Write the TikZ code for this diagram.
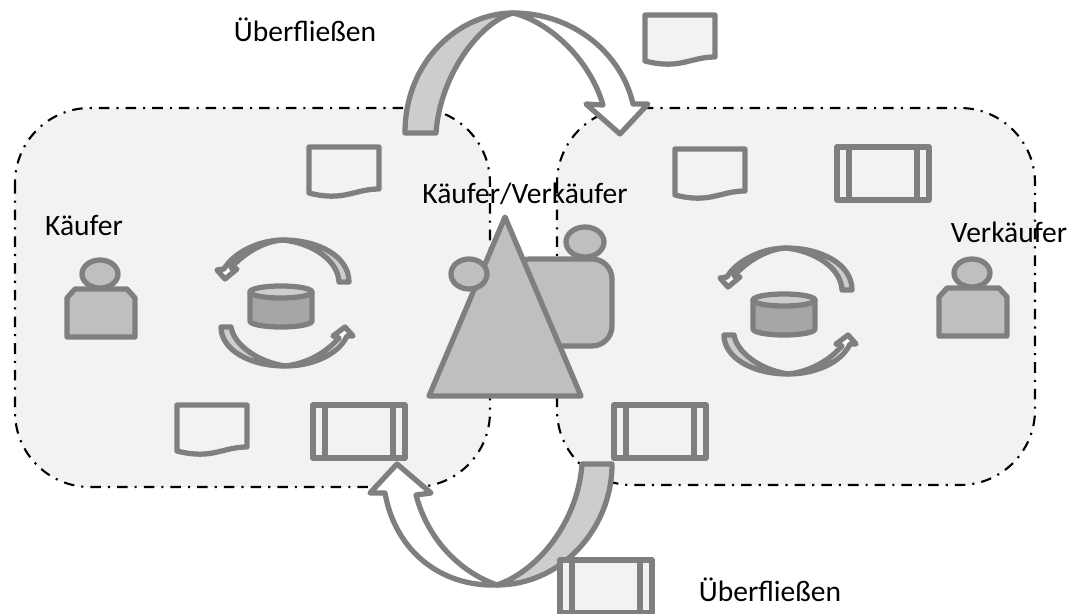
\documentclass[tikz,border=0pt]{standalone}
\usepackage{fontspec}
\setmainfont{Carlito}
\definecolor{shapegray}{HTML}{7F7F7F}
\definecolor{bodygray}{HTML}{BFBFBF}
\definecolor{areagray}{HTML}{F2F2F2}
\definecolor{tailgray}{HTML}{CDCDCD}
\definecolor{drumgray}{HTML}{A6A6A6}
\tikzset{
  area/.style={fill=areagray, draw=black, line width=1.2pt,
    dash pattern=on 6pt off 4pt on 1.2pt off 4pt, rounded corners=1.5cm},
  shapeline/.style={draw=shapegray, line width=3pt, line join=round},
  iconline/.style={draw=shapegray, line width=3pt, line join=round},
  label/.style={font=\fontsize{16.8pt}{20pt}\selectfont, text=black, inner sep=0pt},
}
% 文档图标
\newcommand{\docicon}[2]{
  \draw[shapeline, fill=areagray, shift={(#1,#2)}] (0,0) -- (70,0) -- (70,42)
    .. controls (45,42) and (35,55) .. (0,46) -- cycle;
}
% 过程图标
\newcommand{\boxicon}[2]{
  \draw[shapeline, fill=areagray, shift={(#1,#2)}] (0,0) rectangle (92,53)
    (12,0) -- (12,53) (80,0) -- (80,53);
}
% 人物图标
\newcommand{\personicon}[2]{
  \begin{scope}[shift={(#1,#2)}]
    \draw[shapeline, fill=bodygray] (8,0) -- (60,0) -- (68,9) -- (68,48) -- (0,48) -- (0,9) -- cycle;
    \draw[shapeline, fill=bodygray] (33,-15) ellipse[x radius=18, y radius=14];
  \end{scope}
}
% 循环图标
\newcommand{\cycleicon}[2]{
  \begin{scope}[shift={(#1,#2)}]
    \draw[iconline, fill=tailgray] (349,282) .. controls (349,256) and (318,240) .. (283,240)
      .. controls (312,243) and (338,260) .. (339,282) -- cycle;
    \draw[iconline, fill=white] (283,240) .. controls (260,240) and (234,252) .. (224,269)
      -- (217,270) -- (225,279) -- (237,269) -- (231,268)
      .. controls (245,252) and (265,241) .. (283,240) -- cycle;
    \draw[iconline, fill=tailgray] (221,327) .. controls (221,350) and (250,366) .. (285,366)
      .. controls (258,362) and (234,345) .. (231,327) -- cycle;
    \draw[iconline, fill=white] (285,366) .. controls (312,366) and (338,355) .. (347,336)
      -- (353,336) -- (345,327) -- (333,336) -- (339,338)
      .. controls (325,354) and (305,364) .. (285,366) -- cycle;
    \draw[iconline, fill=drumgray] (250,292) -- (250,321) arc[start angle=180, end angle=360, x radius=31, y radius=-6]
      -- (312,292) -- cycle;
    \draw[iconline, fill=tailgray] (281,292) ellipse[x radius=31, y radius=6];
  \end{scope}
}

\begin{document}
\begin{tikzpicture}[x=0.02cm, y=-0.02cm]
  \useasboundingbox (0,0) rectangle (1068,614);

  % 两个区域
  \draw[area] (15,108) rectangle (490,487);
  \draw[area] (557,108) rectangle (1035,485);

  % 上方的大箭头
  \draw[shapeline, fill=tailgray] (405,133) .. controls (405,60) and (460,13) .. (513,13)
    .. controls (480,22) and (440,75) .. (436,133) -- cycle;
  \draw[shapeline, fill=white] (513,13) .. controls (575,13) and (622,55) .. (633,104)
    -- (648,104) -- (620,134) -- (586,104) -- (603,105)
    .. controls (590,60) and (550,22) .. (513,13) -- cycle;

  % 下方的大箭头
  \draw[shapeline, fill=tailgray] (612,464) .. controls (612,530) and (560,585) .. (497,585)
    .. controls (540,570) and (578,520) .. (582,464) -- cycle;
  \draw[shapeline, fill=white] (497,585) .. controls (440,587) and (395,550) .. (385,493)
    -- (370,493) -- (397,464) -- (431,493) -- (416,495)
    .. controls (428,540) and (460,572) .. (497,585) -- cycle;

  % 文档
  \foreach \X/\Y in {309/147, 645/15, 675/149, 177/405}
    \docicon{\X}{\Y};

  % 过程
  \foreach \X/\Y in {837/147, 313/405, 614/405, 560/560}
    \boxicon{\X}{\Y};

  % 人物和循环
  \personicon{67}{289}
  \personicon{939}{288}
  \cycleicon{0}{0}
  \cycleicon{503}{8}

  % 中间的买卖方
  \draw[shapeline, fill=bodygray, rounded corners=0.4cm] (510,259) -- (612,259) -- (612,346) -- (510,346) -- cycle;
  \draw[shapeline, fill=bodygray] (585,242) ellipse[x radius=19, y radius=15];
  \draw[shapeline, fill=bodygray] (505,217) -- (581,396) -- (429,396) -- cycle;
  \draw[shapeline, fill=bodygray] (469,274) ellipse[x radius=18, y radius=15];

  % 文字
  \node[label] (overflowtop) at (305,30) {Überfließen};
  \node[label] (overflowbottom) at (770,590) {Überfließen};
  \node[label] (buyer) at (84,225) {Käufer};
  \node[label] (seller) at (1009,232) {Verkäufer};
  \node[label] (both) at (525,194) {Käufer/Verkäufer};
\end{tikzpicture}
\end{document}
